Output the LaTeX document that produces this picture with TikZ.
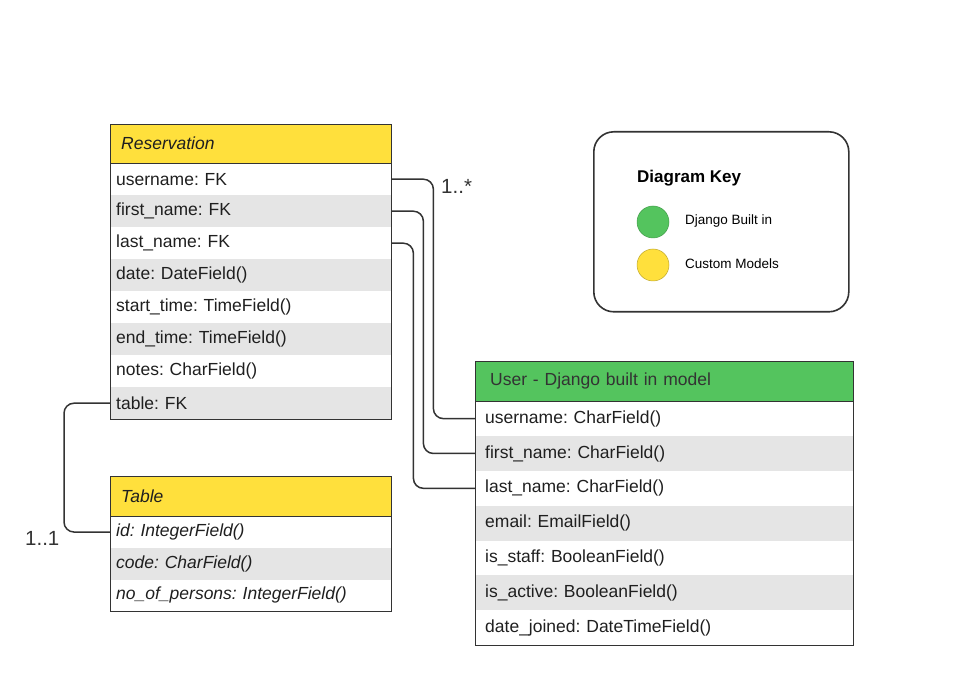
\documentclass[tikz,border=0pt]{standalone}
\usepackage{fontspec}
\setmainfont{Liberation Sans}
\frenchspacing
\definecolor{hdryellow}{HTML}{FFE03C}
\definecolor{hdrgreen}{HTML}{54C45E}
\definecolor{rowgray}{HTML}{E5E5E5}
\definecolor{linegray}{HTML}{333333}
\definecolor{txt}{HTML}{1F1F1F}
\begin{document}
\begin{tikzpicture}[x=1pt,y=-1pt,
  cell/.style={anchor=north west, inner xsep=6, inner ysep=0, align=left, text=txt, font=\fontsize{17.5}{20}\selectfont},
  rescell/.style={cell, minimum height=32, text width=269},
  tabcell/.style={cell, minimum height=31.67, text width=269},
  usrcell/.style={cell, inner xsep=10, minimum height=34.86, text width=358},
  hdr/.style={cell, inner xsep=11, minimum height=39.5},
  gray/.style={fill=rowgray},
  frame/.style={draw=linegray, line width=0.9},
  conn/.style={draw=linegray, line width=1.5, rounded corners=10},
  lbl/.style={font=\fontsize{20.5}{24}\selectfont, text=linegray, inner sep=0}
]
\useasboundingbox (0,0) rectangle (964,700);
% Reservation
\node[hdr, fill=hdryellow, text width=259, minimum height=39] (rh) at (110,124) {\itshape Reservation};
\node[rescell] (r1) at (110,163) {username: FK};
\node[rescell,gray] (r2) at (110,195) {first\_name: FK};
\node[rescell] (r3) at (110,227) {last\_name: FK};
\node[rescell,gray] (r4) at (110,259) {date: DateField()};
\node[rescell] (r5) at (110,291) {start\_time: TimeField()};
\node[rescell,gray] (r6) at (110,323) {end\_time: TimeField()};
\node[rescell] (r7) at (110,355) {notes: CharField()};
\node[rescell,gray] (r8) at (110,387) {table: FK};
\draw[frame] (rh.north west) rectangle (r8.south east);
\draw[frame] (rh.south west) -- (rh.south east);
% Table
\node[hdr, fill=hdryellow, text width=259, minimum height=40] (th) at (110,476) {\itshape Table};
\node[tabcell] (t1) at (110,516) {\itshape id: IntegerField()};
\node[tabcell,gray] (t2) at (110,547.67) {\itshape code: CharField()};
\node[tabcell] (t3) at (110,579.33) {\itshape no\_of\_persons: IntegerField()};
\draw[frame] (th.north west) rectangle (t3.south east);
\draw[frame] (th.south west) -- (th.south east);
% User
\node[hdr, fill=hdrgreen, inner xsep=15, text width=348, minimum height=40] (uh) at (475,361) {\color{linegray}User - Django built in model};
\node[usrcell] (u1) at (475,401) {username: CharField()};
\node[usrcell,gray] (u2) at (475,435.86) {first\_name: CharField()};
\node[usrcell] (u3) at (475,470.71) {last\_name: CharField()};
\node[usrcell,gray] (u4) at (475,505.57) {email: EmailField()};
\node[usrcell] (u5) at (475,540.43) {is\_staff: BooleanField()};
\node[usrcell,gray] (u6) at (475,575.29) {is\_active: BooleanField()};
\node[usrcell] (u7) at (475,610.14) {date\_joined: DateTimeField()};
\draw[frame] (uh.north west) rectangle (u7.south east);
\draw[frame] (uh.south west) -- (uh.south east);
% Connectors
\draw[conn] (r1.east) -- ([xshift=42]r1.east) |- (u1.west);
\draw[conn] (r2.east) -- ([xshift=32]r2.east) |- (u2.west);
\draw[conn] (r3.east) -- ([xshift=22]r3.east) |- (u3.west);
\draw[conn] (r8.west) -- ([xshift=-46]r8.west) |- (t1.west);
\node[lbl, anchor=west] (m1) at (441,186) {1..*};
\node[lbl, anchor=west] (m2) at (25,538) {1..1};
% Key
\node[draw=linegray, line width=1.6, rounded corners=20, minimum width=255, minimum height=180, anchor=north west] (key) at (593,131) {};
\node[anchor=west, inner sep=0, font=\bfseries\fontsize{17}{20}\selectfont] (kt) at (637,178) {Diagram Key};
\node[circle, fill=hdrgreen, draw=hdrgreen!80!black, line width=0.5, minimum size=32, inner sep=0] (kg) at (653,222) {};
\node[circle, fill=hdryellow, draw=hdryellow!75!black, line width=0.5, minimum size=32, inner sep=0] (ky) at (653,265) {};
\node[anchor=west, inner sep=0, font=\fontsize{13.5}{16}\selectfont] (kgl) at (685,221) {Django Built in};
\node[anchor=west, inner sep=0, font=\fontsize{13.5}{16}\selectfont] (kyl) at (685,264) {Custom Models};
\end{tikzpicture}
\end{document}
